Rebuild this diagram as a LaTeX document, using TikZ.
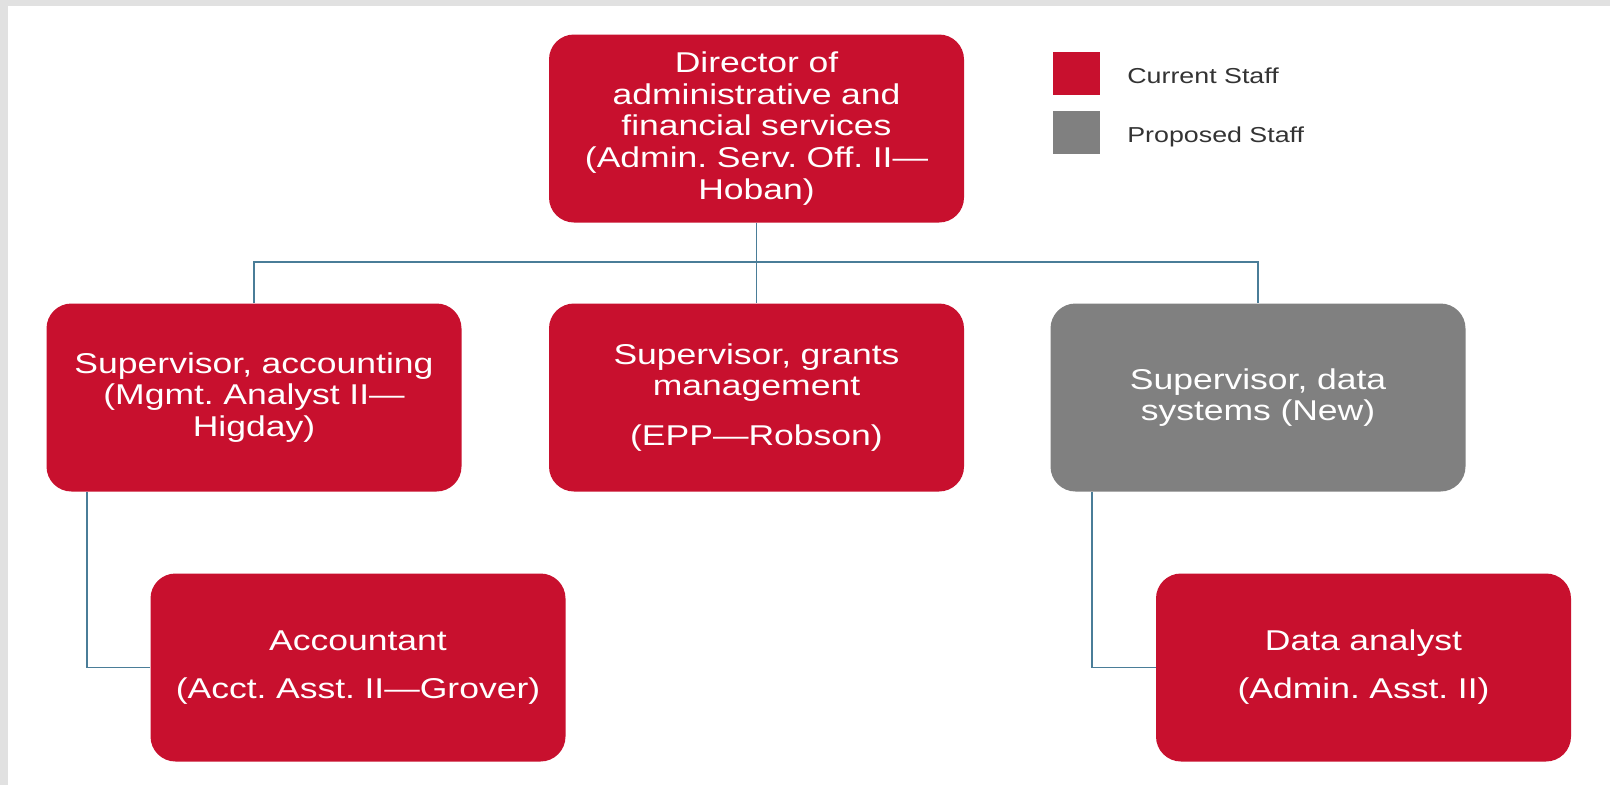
\documentclass[tikz,border=0pt]{standalone}
\usepackage{fontspec}
\setmainfont{Liberation Sans}[FakeStretch=1.24]
\frenchspacing
\definecolor{staffred}{HTML}{C8102E}
\definecolor{staffgray}{HTML}{808080}
\definecolor{linkblue}{HTML}{4A7D98}
\definecolor{pagegray}{HTML}{E1E1E1}
\tikzset{
	post/.style={rounded corners=0.50cm, minimum width=8.30cm, minimum height=3.76cm, inner sep=0.10cm, text width=8.00cm, align=center, text=white, font=\fontsize{16.3}{18}\selectfont},
	current/.style={post, fill=staffred},
	proposed/.style={post, fill=staffgray},
	key/.style={minimum width=0.94cm, minimum height=0.86cm, inner sep=0pt},
	keytext/.style={text=black!80, font=\fontsize{12.3}{15}\selectfont},
	link/.style={draw=linkblue, line width=0.8pt},
}
\begin{document}
\begin{tikzpicture}
		% page frame
		\fill[pagegray] (0.00,0.00) rectangle (32.20,-15.70);
		\fill[white] (0.16,-0.12) rectangle (32.20,-15.70);
		% boxes
		\node[current] (dir) at (15.13,-2.57) {Director of\\administrative and\\financial services\\(Admin. Serv. Off. II—\\Hoban)};
		\node[current] (acctsup) at (5.08,-7.95) {Supervisor, accounting\\(Mgmt. Analyst II—\\Higday)};
		\node[current] (grantsup) at (15.13,-7.95) {Supervisor, grants\\management\\[10.5pt](EPP—Robson)};
		\node[proposed] (datasup) at (25.16,-7.95) {Supervisor, data\\systems (New)};
		\node[current] (acct) at (7.16,-13.35) {Accountant\\[9.3pt](Acct. Asst. II—Grover)};
		\node[current] (analyst) at (27.27,-13.35) {Data analyst\\[9.3pt](Admin. Asst. II)};
		% legend
		\node[key, fill=staffred] (keycur) at (21.53,-1.47) {};
		\node[key, fill=staffgray] (keyprop) at (21.53,-2.65) {};
		\node[keytext, anchor=base west, inner sep=0pt] (curtext) at (22.54,-1.66) {Current Staff};
		\node[keytext, anchor=base west, inner sep=0pt] (proptext) at (22.54,-2.84) {Proposed Staff};
		% connectors
		\coordinate (bus) at (15.13,-5.24);
		\draw[link] (dir.south) -- (bus);
		\draw[link] (acctsup.north) |- (bus) -| (datasup.north);
		\draw[link] (bus) -- (grantsup.north);
		\draw[link] (acctsup.south west) ++(0.82,0) |- (acct.west);
		\draw[link] (datasup.south west) ++(0.84,0) |- (analyst.west);
	\end{tikzpicture}
\end{document}
